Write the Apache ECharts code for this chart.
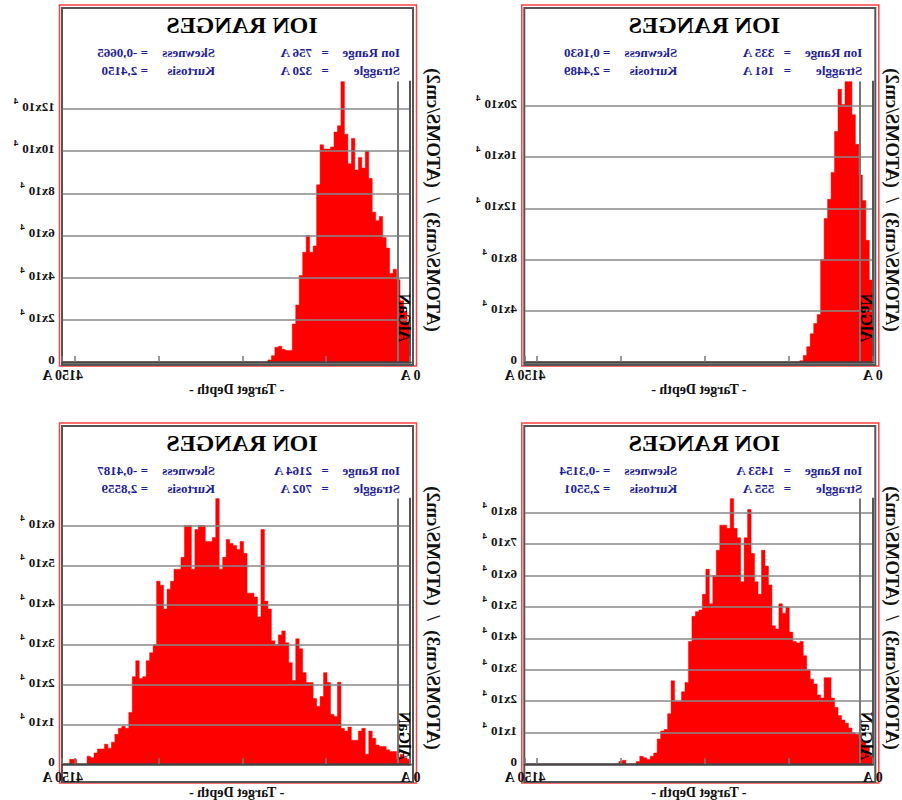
<!DOCTYPE html>
<html>
<head>
<meta charset="utf-8">
<script src="https://cdn.jsdelivr.net/npm/echarts@6/dist/echarts.min.js"></script>
<style>
html,body{margin:0;padding:0;background:#fff;}
#chart{width:902px;height:800px;transform:scaleX(-1);}
</style>
</head>
<body>
<div id="chart"></div>
<script>
// ---- data (SRIM ion range histograms, 100 depth bins of 41.5 A, values in units of 10^4) ----
const binWidth = 41.5;
const depthMax = 4150;
const layerDepth = 150;
const layerName = 'AlGaN';

const histA = [1.9,2.4,2.9,3.9,4.4,4.2,5.4,5.9,6.9,6.7,7.1,8.7,10.0,9.2,9.7,9.1,10.6,9.4,10.8,13.3,
11.2,10.9,10.2,10.1,10.1,10.3,8.4,5.5,5.2,6.0,5.2,4.1,2.7,1.8,0.55,0.55,0.6,0.75,0.7,0.3,
0.1,0,0,0,0,0,0,0,0,0,0,0,0,0,0,0,0,0,0,0,
0,0,0,0,0,0,0,0,0,0,0,0,0,0,0,0,0,0,0,0,
0,0,0,0,0,0,0,0,0,0,0,0,0,0,0,0,0,0,0,0];

const histB = [6.4,9.5,12.6,14.6,17.0,19.3,21.9,21.9,20.1,21.3,18.0,14.8,12.7,11.2,8.0,3.7,3.0,2.2,1.2,0.5,
0.1,0,0,0,0,0,0,0,0,0,0,0,0,0,0,0,0,0,0,0,
0,0,0,0,0,0,0,0,0,0,0,0,0,0,0,0,0,0,0,0,
0,0,0,0,0,0,0,0,0,0,0,0,0,0,0,0,0,0,0,0,
0,0,0,0,0,0,0,0,0,0,0,0,0,0,0,0,0,0,0,0];

const histC = [0.12,0.16,0.24,0.12,0.32,0.32,0.36,0.44,0.44,0.48,0.65,0.83,0.25,0.9,0.83,0.6,0.6,0.93,0.83,0.9,
2.06,1.2,1.25,2.05,2.3,1.7,1.45,1.65,2.05,2.05,2.3,2.9,3.15,2.1,2.55,3.05,3.35,3.25,3.0,3.1,
3.9,4.1,5.9,3.7,4.2,4.3,4.3,5.3,5.6,5.4,5.5,5.55,5.65,5.2,4.9,6.68,5.7,5.6,5.6,6.0,
6.0,5.9,4.9,6.0,6.0,5.2,4.9,4.9,4.6,4.4,3.9,4.5,4.6,3.0,2.8,2.6,2.2,2.15,2.6,2.2,
1.3,0.9,0.95,0.9,0.75,0.55,0.4,0.5,0.38,0.38,0.28,0.16,0.2,0,0,0,0.12,0.12,0,0];

const histD = [0.25,0.55,0.7,0.8,0.95,1.0,1.15,1.3,1.4,1.55,1.8,2.1,2.75,2.75,2.1,2.2,2.55,2.7,3.0,3.45,
3.9,3.85,3.9,4.2,5.0,4.8,5.1,4.3,4.4,5.7,6.3,6.8,5.4,5.8,6.7,8.1,7.2,5.8,7.2,7.5,
8.45,7.5,7.6,7.6,6.8,6.0,5.1,6.2,5.4,4.9,4.85,4.7,3.9,2.6,2.3,2.0,2.0,2.65,1.6,1.1,
1.05,0.8,0.35,0.25,0.15,0.2,0.25,0.08,0,0,0,0.12,0.08,0,0,0,0,0,0,0,
0,0,0,0,0,0,0,0,0,0,0,0,0,0,0,0,0,0,0,0];

const ionRange = ['756 A', '335 A', '2164 A', '1453 A'];
const straggle = ['320 A', '161 A', '702 A', '555 A'];
const skewness = ['-0,0665', '0,1630', '-0,4187', '-0,3154'];
const kurtosis = ['2,4150', '2,4489', '2,8559', '2,5501'];
const yTickStep = [2, 4, 1, 1];
const titleText = 'ION RANGES';
const xName = '- Target Depth -';
const yName = '(ATOMS/cm3)  /  (ATOMS/cm2)';

const hists = [histA, histB, histC, histD];

// ---- layout (drawn un-mirrored, then the whole page is flipped horizontally) ----
const panels = [
  {gl: 491.5, top: 81.5, h: 280.5, fy: 5,   yt: -22.5},
  {gl: 29.2,  top: 81.5, h: 280.5, fy: 5,   yt: -20},
  {gl: 491.5, top: 498.5, h: 281, fy: 423, yt: -22.5},
  {gl: 29.2,  top: 498.5, h: 281, fy: 423, yt: -20}
];
const gw = 347.8;
const serif = 'Liberation Serif, Times New Roman, serif';
const statColor = '#1e1e96';

const chart = echarts.init(document.getElementById('chart'), null, {renderer: 'svg'});

const grids = [], xAxes = [], yAxes = [], series = [], graphics = [];

function txt(x, y, text, font, fill, align, extra) {
  return Object.assign({
    type: 'text', x: x, y: y, z: 100, silent: true,
    style: {text: text, font: font, fill: fill, align: align, textAlign: align,
            verticalAlign: 'middle', textVerticalAlign: 'middle'}
  }, extra || {});
}

// histogram drawn as a filled step outline: each bin starts at its left edge
function stepData(h) {
  const d = h.map((v, i) => [binWidth * i, v]);
  d.push([depthMax, h[h.length - 1]]);
  return d;
}

panels.forEach((p, k) => {
  grids.push({left: p.gl, top: p.top, width: gw, height: p.h, containLabel: false});
  xAxes.push({
    gridIndex: k, type: 'value', min: 0, max: depthMax, interval: 1000, z: 5,
    axisLine: {show: true, onZero: false, lineStyle: {color: '#444', width: 2.5}},
    axisTick: {show: true, inside: true, length: 6, lineStyle: {color: '#777', width: 1.5}},
    splitLine: {show: false},
    axisLabel: {
      showMinLabel: true, showMaxLabel: true, margin: 6,
      fontFamily: serif, fontWeight: 'bold', fontSize: 14, color: '#111',
      formatter: v => (v === 0 ? '0 A' : (v === depthMax ? depthMax + ' A' : ''))
    },
    name: xName, nameLocation: 'middle', nameGap: 6,
    nameTextStyle: {fontFamily: serif, fontWeight: 'bold', fontSize: 14, color: '#111', verticalAlign: 'top'}
  });
  yAxes.push({
    gridIndex: k, type: 'value', position: 'right', min: 0, max: 'dataMax', interval: yTickStep[k], z: 5,
    axisLine: {show: true, lineStyle: {color: '#555', width: 2}},
    axisTick: {show: false},
    splitLine: {show: true, showMinLine: false, showMaxLine: false, lineStyle: {color: '#888', width: 1.5}},
    axisLabel: {
      showMaxLabel: false, margin: 8, padding: [0, 0, 5, 0],
      formatter: v => (v === 0 ? '{a|0}' : '{a|' + v + 'x10}{s|4}'),
      rich: {
        a: {fontFamily: serif, fontWeight: 'bold', fontSize: 13, color: '#111', lineHeight: 20, verticalAlign: 'middle'},
        s: {fontFamily: serif, fontWeight: 'bold', fontSize: 9, color: '#111', lineHeight: 10, verticalAlign: 'top', padding: [0, 0, 0, 4]}
      }
    }
  });
  series.push({
    type: 'line', xAxisIndex: k, yAxisIndex: k, silent: true, animation: false,
    step: 'end', symbol: 'none', showSymbol: false,
    data: stepData(hists[k]),
    lineStyle: {color: '#ff0000', width: 0.5},
    areaStyle: {color: '#ff0000', opacity: 1},
    markLine: {
      silent: true, symbol: 'none', animation: false, label: {show: false},
      lineStyle: {color: '#777', width: 2, type: 'solid'},
      data: [{xAxis: layerDepth}]
    }
  });

  const fh = (k < 2) ? 361 : 360;
  graphics.push({type: 'rect', z: 1, silent: true, shape: {x: p.gl - 6, y: p.fy, width: 357, height: fh},
                 style: {fill: 'none', stroke: '#ff4040', lineWidth: 1.5}});
  graphics.push({type: 'rect', z: 1, silent: true, shape: {x: p.gl - 2.5, y: p.fy + 3, width: 351, height: fh - 4},
                 style: {fill: 'none', stroke: '#555', lineWidth: 2}});
  graphics.push(txt(p.gl + 168.5, p.fy + 20, titleText, 'bold 24px ' + serif, '#000', 'center'));
  const sf = 'bold 13px ' + serif;
  graphics.push(txt(p.gl + 10.5, p.fy + 47, 'Ion Range', sf, statColor, 'left'));
  graphics.push(txt(p.gl + 85.5, p.fy + 47, '=', sf, statColor, 'center'));
  graphics.push(txt(p.gl + 98.5, p.fy + 47, ionRange[k], sf, statColor, 'left'));
  graphics.push(txt(p.gl + 195.5, p.fy + 47, 'Skewness', sf, statColor, 'left'));
  graphics.push(txt(p.gl + 262.5, p.fy + 47, '= ' + skewness[k], sf, statColor, 'left'));
  graphics.push(txt(p.gl + 10.5, p.fy + 65, 'Straggle', sf, statColor, 'left'));
  graphics.push(txt(p.gl + 85.5, p.fy + 65, '=', sf, statColor, 'center'));
  graphics.push(txt(p.gl + 98.5, p.fy + 65, straggle[k], sf, statColor, 'left'));
  graphics.push(txt(p.gl + 195.5, p.fy + 65, 'Kurtosis', sf, statColor, 'left'));
  graphics.push(txt(p.gl + 262.5, p.fy + 65, '= ' + kurtosis[k], sf, statColor, 'left'));
  graphics.push(txt(p.gl + p.yt, p.fy + 195, yName, 'bold 19px ' + serif, '#111', 'center', {rotation: Math.PI / 2}));
  graphics.push(txt(p.gl + 6.5, p.fy + 313, layerName, 'bold 16px ' + serif, '#000', 'center', {rotation: Math.PI / 2}));
});

chart.setOption({
  animation: false,
  backgroundColor: '#fff',
  grid: grids,
  xAxis: xAxes,
  yAxis: yAxes,
  series: series,
  graphic: {elements: graphics}
});
</script>
</body>
</html>
